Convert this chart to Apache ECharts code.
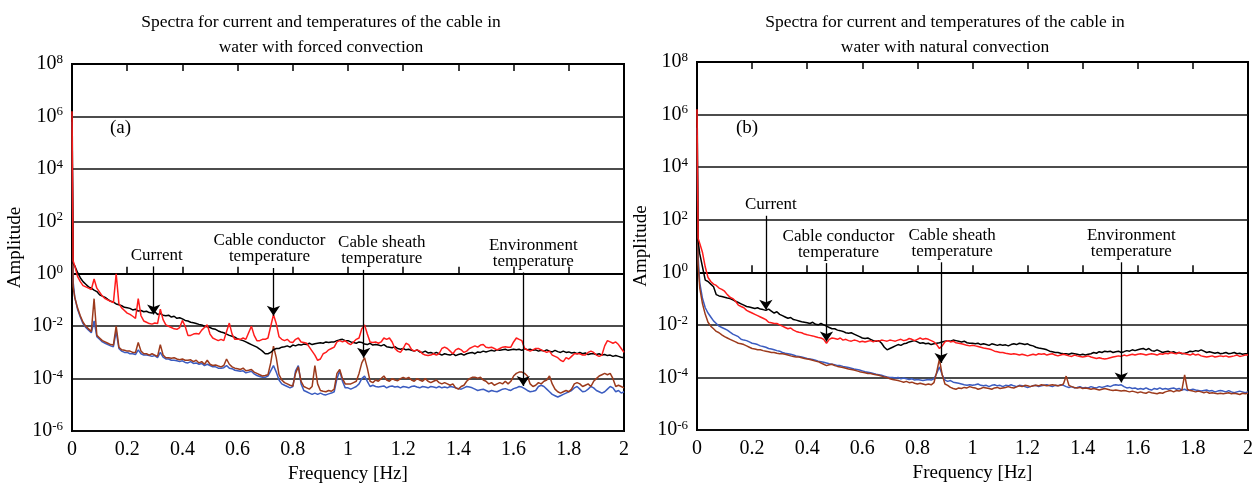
<!DOCTYPE html>
<html>
<head>
<meta charset="utf-8">
<script src="https://cdn.jsdelivr.net/npm/echarts@6/dist/echarts.min.js"></script>
<style>
html, body { margin: 0; padding: 0; background: #fff; }
#main { width: 1256px; height: 489px; }
</style>
</head>
<body>
<div id="main"></div>
<script>
// frequency grid of the spectra [Hz]: 0, 0.004, then every 0.01 Hz up to 2
var freq = [0, 0.004];
for (var k = 1; k <= 200; k++) freq.push(k / 100);

var xTicks = [0, 0.2, 0.4, 0.6, 0.8, 1, 1.2, 1.4, 1.6, 1.8, 2];
var yExp = [-6, -4, -2, 0, 2, 4, 6, 8];   // amplitude ticks are 10^n

// values are log10(amplitude)
// (a) forced convection
var forcedCurrent = [7.0, 0.4,
  0.3, 0.05, -0.15, -0.3, -0.4, -0.5, -0.55, -0.62, -0.68, -0.8,
  -0.85, -0.9, -0.98, -1.05, -1.08, -1.15, -1.18, -1.22, -1.28, -1.3,
  -1.32, -1.38, -1.35, -1.42, -1.4, -1.45, -1.43, -1.48, -1.5, -1.45,
  -1.55, -1.52, -1.58, -1.6, -1.58, -1.65, -1.62, -1.7, -1.68, -1.72,
  -1.78, -1.8, -1.85, -1.87, -1.9, -1.93, -1.95, -2.0, -2.02, -2.05,
  -2.1, -2.12, -2.18, -2.22, -2.25, -2.3, -2.35, -2.38, -2.42, -2.48,
  -2.52, -2.55, -2.6, -2.65, -2.7, -2.75, -2.8, -2.87, -2.95, -3.05,
  -3.05, -3.0, -2.9, -2.85, -2.85, -2.8, -2.78, -2.75, -2.8, -2.72,
  -2.75, -2.7, -2.72, -2.68, -2.7, -2.65, -2.7, -2.67, -2.65, -2.63,
  -2.65, -2.6, -2.62, -2.6, -2.6, -2.55, -2.52, -2.5, -2.55, -2.55,
  -2.6, -2.62, -2.65, -2.6, -2.62, -2.68, -2.7, -2.65, -2.72, -2.7,
  -2.72, -2.75, -2.7, -2.78, -2.8, -2.82, -2.78, -2.85, -2.88, -2.85,
  -2.9, -2.88, -2.92, -2.95, -2.9, -2.98, -3.0, -2.95, -3.02, -3.0,
  -3.05, -3.0, -3.05, -3.1, -3.05, -3.08, -3.1, -3.05, -3.12, -3.08,
  -3.05, -3.1, -3.05, -3.02, -3.0, -3.05, -2.98, -3.0, -2.95, -2.98,
  -2.95, -2.92, -2.95, -2.9, -2.92, -2.9, -2.88, -2.92, -2.9, -2.88,
  -2.9, -2.88, -2.92, -2.85, -2.9, -2.88, -2.92, -2.9, -2.95, -2.92,
  -2.95, -2.9, -2.95, -2.98, -2.92, -2.97, -3.0, -2.95, -3.0, -2.98,
  -3.02, -3.0, -3.05, -3.0, -3.05, -3.02, -3.08, -3.05, -3.05, -3.08,
  -3.05, -3.1, -3.08, -3.12, -3.1, -3.15, -3.12, -3.15, -3.18, -3.2];
var forcedConductor = [6.2, 0.5,
  0.3, -0.1, -0.3, -0.45, -0.5, -0.55, -0.6, -0.2, -0.55, -0.7,
  -0.85, -0.95, -1.0, -1.05, -1.1, 0.0, -1.15, -1.3, -1.4, -1.5,
  -1.55, -1.62, -1.7, -0.95, -1.6, -1.8, -1.85, -1.9, -1.92, -1.88,
  -1.9, -1.35, -1.75, -1.95, -2.0, -2.05, -2.1, -2.12, -2.05, -1.78,
  -2.0, -2.35, -2.35, -2.3, -2.28, -2.3, -2.15, -2.05, -1.95, -2.3,
  -2.45, -2.5, -2.55, -2.5, -2.55, -2.2, -1.88, -2.3, -2.5, -2.5,
  -2.5, -2.45, -2.5, -2.25, -2.0, -2.35, -2.55, -2.55, -2.5, -2.5,
  -2.45, -2.0, -1.56, -1.9, -2.4, -2.5, -2.55, -2.5, -2.6, -2.62,
  -2.5, -2.45, -2.6, -2.62, -2.65, -2.8, -2.95, -3.1, -3.3, -3.25,
  -3.05, -3.0, -2.9, -2.85, -2.8, -2.6, -2.55, -2.6, -2.55, -2.65,
  -2.7, -2.6, -2.5, -2.45, -2.1, -1.95, -2.3, -2.6, -2.62, -2.6,
  -2.65, -2.6, -2.45, -2.5, -2.45, -2.6, -2.85, -2.95, -3.0, -2.85,
  -2.65, -2.7, -2.88, -2.95, -2.9, -2.95, -3.05, -3.1, -3.12, -3.1,
  -3.05, -3.1, -3.05, -2.85, -2.8, -2.85, -2.95, -3.05, -2.9, -2.85,
  -2.9, -3.0, -2.95, -2.85, -2.8, -2.75, -2.8, -2.72, -2.7, -2.8,
  -2.82, -2.8, -2.85, -2.9, -2.85, -2.8, -2.78, -2.8, -2.8, -2.6,
  -2.45, -2.5, -2.55, -2.85, -2.9, -2.95, -2.9, -2.85, -2.85, -2.9,
  -2.95, -3.0, -2.95, -3.1, -3.15, -3.2, -3.3, -3.35, -3.2, -3.25,
  -3.15, -3.05, -3.05, -3.05, -3.1, -3.1, -3.0, -2.95, -3.0, -3.1,
  -3.15, -3.1, -2.75, -2.55, -2.6, -2.65, -2.6, -2.7, -2.85, -3.0];
var forcedSheath = [5.8, -0.3,
  -0.9, -1.35, -1.65, -1.9, -2.05, -2.15, -2.25, -1.8, -2.4, -2.5,
  -2.6, -2.65, -2.7, -2.75, -2.78, -2.2, -2.85, -2.95, -3.0, -3.0,
  -3.05, -3.05, -3.08, -2.9, -3.05, -3.1, -3.1, -3.12, -3.15, -3.12,
  -3.2, -3.0, -3.18, -3.25, -3.25, -3.3, -3.3, -3.32, -3.35, -3.32,
  -3.38, -3.4, -3.35, -3.42, -3.4, -3.45, -3.42, -3.5, -3.45, -3.5,
  -3.55, -3.55, -3.6, -3.6, -3.58, -3.5, -3.6, -3.62, -3.68, -3.7,
  -3.72, -3.7, -3.78, -3.75, -3.72, -3.82, -3.88, -3.92, -3.95, -3.95,
  -3.9, -3.7, -3.5, -3.75, -4.05, -4.2, -4.25, -4.3, -4.35, -4.3,
  -3.7, -3.5, -4.2, -4.45, -4.5, -4.55, -4.6, -4.55, -4.6, -4.55,
  -4.6, -4.62, -4.58, -4.55, -4.5, -4.0, -3.7, -4.1, -4.35, -4.35,
  -4.4, -4.35, -4.3, -4.2, -4.0, -3.9, -4.1, -4.3, -4.25, -4.3,
  -4.32, -4.3, -4.28, -4.35, -4.3, -4.28, -4.32, -4.3, -4.35, -4.3,
  -4.32, -4.35, -4.3, -4.28, -4.32, -4.35, -4.3, -4.32, -4.35, -4.3,
  -4.32, -4.35, -4.3, -4.35, -4.32, -4.35, -4.3, -4.32, -4.35, -4.38,
  -4.4, -4.35, -4.3, -4.32, -4.35, -4.4, -4.45, -4.42, -4.4, -4.45,
  -4.5, -4.45, -4.48, -4.5, -4.45, -4.4, -4.38, -4.42, -4.45, -4.38,
  -4.35, -4.3, -4.32, -4.38, -4.45, -4.5, -4.48, -4.45, -4.3, -4.25,
  -4.3, -4.4, -4.5, -4.6, -4.65, -4.7, -4.65, -4.6, -4.55, -4.5,
  -4.45, -4.35, -4.3, -4.4, -4.5, -4.48, -4.4, -4.3, -4.35, -4.45,
  -4.5, -4.55, -4.5, -4.4, -4.3, -4.35, -4.5, -4.45, -4.55, -4.5];
var forcedEnv = [5.5, -0.5,
  -0.9, -1.3, -1.6, -1.85, -2.0, -2.1, -2.2, -0.95, -2.35, -2.45,
  -2.55, -2.6, -2.65, -2.7, -2.72, -2.0, -2.8, -2.9, -2.92, -2.95,
  -2.95, -3.0, -3.0, -2.62, -2.95, -3.05, -3.05, -3.1, -3.05, -3.1,
  -3.15, -2.7, -3.1, -3.2, -3.2, -3.22, -3.2, -3.25, -3.28, -3.25,
  -3.3, -3.3, -3.28, -3.35, -3.3, -3.4, -3.35, -3.45, -3.3, -3.45,
  -3.5, -3.48, -3.52, -3.55, -3.5, -3.25, -3.45, -3.55, -3.6, -3.62,
  -3.65, -3.6, -3.7, -3.68, -3.65, -3.75, -3.8, -3.85, -3.9, -3.88,
  -3.85, -3.4, -2.76, -3.2, -3.85, -4.05, -4.15, -4.2, -4.25, -4.28,
  -3.8, -3.55, -4.1, -4.3, -4.35, -4.4, -4.3, -3.5, -4.2, -4.45,
  -4.48, -4.5, -4.45, -4.48, -4.4, -3.8, -3.65, -4.0, -4.2, -4.2,
  -4.2, -4.15, -4.1, -3.8, -3.4, -3.2, -3.6, -4.1, -4.15, -4.05,
  -4.1, -4.0, -3.9, -4.05, -4.1, -4.0, -4.05, -4.08, -4.0, -3.95,
  -4.0, -3.95, -4.05, -4.1, -4.0, -4.05, -4.1, -4.0, -4.1, -4.15,
  -4.1, -4.05, -4.15, -4.2, -4.15, -4.2, -4.25, -4.2, -4.35, -4.4,
  -4.3, -4.25, -4.1, -4.0, -3.95, -3.95, -3.98, -3.95, -4.05, -4.1,
  -4.2, -4.15, -4.25, -4.2, -4.15, -4.2, -4.1, -4.2, -4.1, -3.9,
  -3.8, -3.75, -3.75, -3.8, -3.9, -4.2, -4.3, -4.25, -4.15, -4.2,
  -4.1, -4.05, -3.9, -4.2, -4.4, -4.5, -4.55, -4.5, -4.45, -4.5,
  -4.4, -4.2, -4.15, -4.2, -4.3, -4.25, -4.2, -4.3, -4.1, -4.0,
  -3.9, -3.85, -3.8, -3.85, -3.8, -4.0, -4.3, -4.25, -4.3, -4.35];

// (b) natural convection
var naturalCurrent = [7.0, 1.2,
  0.7, 0.2, -0.3, -0.35, -0.45, -0.55, -0.85, -0.9, -0.92, -0.95,
  -0.98, -1.0, -1.05, -1.1, -1.15, -1.2, -1.25, -1.3, -1.32, -1.35,
  -1.38, -1.35, -1.4, -1.42, -1.45, -1.4, -1.48, -1.55, -1.5, -1.6,
  -1.65, -1.7, -1.75, -1.72, -1.8, -1.82, -1.85, -1.88, -1.9, -1.92,
  -1.95, -1.9, -1.98, -2.0, -1.95, -2.0, -2.05, -2.1, -2.15, -2.15,
  -2.2, -2.22, -2.25, -2.3, -2.32, -2.3, -2.35, -2.4, -2.45, -2.5,
  -2.52, -2.5, -2.55, -2.6, -2.62, -2.6, -2.7, -2.85, -2.95, -2.9,
  -2.85, -2.8, -2.75, -2.78, -2.72, -2.7, -2.65, -2.62, -2.6, -2.65,
  -2.7, -2.68, -2.72, -2.7, -2.75, -2.72, -2.7, -2.68, -2.65, -2.62,
  -2.6, -2.62, -2.58, -2.6, -2.62, -2.65, -2.62, -2.68, -2.7, -2.7,
  -2.72, -2.7, -2.75, -2.72, -2.75, -2.78, -2.72, -2.75, -2.78, -2.75,
  -2.78, -2.76, -2.8, -2.75, -2.72, -2.75, -2.7, -2.72, -2.75, -2.72,
  -2.78, -2.8, -2.85, -2.88, -2.9, -2.92, -2.95, -3.0, -3.02, -3.05,
  -3.05, -3.08, -3.1, -3.1, -3.12, -3.08, -3.1, -3.12, -3.15, -3.12,
  -3.15, -3.12, -3.1, -3.05, -3.08, -3.02, -3.05, -3.0, -3.02, -3.0,
  -3.05, -3.02, -3.0, -3.05, -3.02, -2.98, -3.0, -2.95, -2.98, -2.95,
  -2.92, -2.9, -2.95, -2.9, -2.98, -3.0, -2.95, -3.0, -3.05, -3.02,
  -3.0, -3.05, -3.02, -3.08, -3.05, -3.1, -3.08, -3.05, -3.0, -3.02,
  -2.98, -3.0, -2.95, -3.0, -3.05, -3.02, -3.05, -3.08, -3.05, -3.1,
  -3.08, -3.05, -3.1, -3.08, -3.05, -3.1, -3.08, -3.12, -3.1, -3.1];
var naturalConductor = [6.2, 1.3,
  1.1, 0.75, 0.2, -0.2, -0.35, -0.45, -0.5, -0.6, -0.65, -0.72,
  -0.85, -0.95, -1.0, -1.1, -1.25, -1.3, -1.35, -1.45, -1.5, -1.55,
  -1.6, -1.65, -1.7, -1.75, -1.8, -1.9, -1.92, -1.95, -1.95, -2.0,
  -2.05, -2.1, -2.15, -2.12, -2.2, -2.25, -2.28, -2.3, -2.35, -2.38,
  -2.4, -2.42, -2.45, -2.48, -2.5, -2.55, -2.7, -2.55, -2.5, -2.52,
  -2.55, -2.5, -2.58, -2.55, -2.6, -2.62, -2.58, -2.6, -2.65, -2.62,
  -2.65, -2.62, -2.6, -2.65, -2.6, -2.62, -2.58, -2.6, -2.62, -2.58,
  -2.6, -2.62, -2.58, -2.55, -2.6, -2.58, -2.52, -2.55, -2.6, -2.55,
  -2.5, -2.55, -2.52, -2.55, -2.6, -2.65, -2.75, -2.9, -2.8, -2.65,
  -2.6, -2.65, -2.62, -2.68, -2.7, -2.72, -2.75, -2.78, -2.8, -2.78,
  -2.8, -2.82, -2.85, -2.88, -2.9, -2.92, -2.95, -3.0, -3.02, -3.05,
  -3.05, -3.08, -3.1, -3.12, -3.1, -3.12, -3.15, -3.12, -3.15, -3.18,
  -3.15, -3.12, -3.15, -3.1, -3.12, -3.1, -3.15, -3.12, -3.1, -3.15,
  -3.18, -3.15, -3.12, -3.15, -3.18, -3.2, -3.15, -3.18, -3.2, -3.22,
  -3.2, -3.18, -3.22, -3.25, -3.28, -3.25, -3.28, -3.3, -3.28, -3.25,
  -3.22, -3.2, -3.18, -3.2, -3.15, -3.18, -3.15, -3.12, -3.15, -3.12,
  -3.1, -3.12, -3.15, -3.12, -3.1, -3.12, -3.15, -3.1, -3.12, -3.08,
  -3.1, -3.05, -3.08, -3.1, -3.05, -3.08, -3.1, -3.12, -3.15, -3.1,
  -3.15, -3.12, -3.18, -3.2, -3.22, -3.2, -3.18, -3.22, -3.2, -3.18,
  -3.2, -3.18, -3.22, -3.2, -3.18, -3.15, -3.2, -3.18, -3.15, -3.15];
var naturalSheath = [5.5, 0.6,
  -0.4, -1.0, -1.35, -1.55, -1.7, -1.85, -1.95, -2.05, -2.1, -2.15,
  -2.2, -2.28, -2.35, -2.4, -2.45, -2.55, -2.58, -2.6, -2.65, -2.7,
  -2.72, -2.75, -2.8, -2.82, -2.85, -2.9, -2.92, -2.95, -2.98, -3.0,
  -3.05, -3.08, -3.1, -3.12, -3.15, -3.18, -3.2, -3.22, -3.25, -3.28,
  -3.3, -3.32, -3.35, -3.38, -3.4, -3.42, -3.45, -3.48, -3.5, -3.52,
  -3.55, -3.55, -3.58, -3.6, -3.62, -3.65, -3.68, -3.7, -3.72, -3.75,
  -3.78, -3.8, -3.82, -3.85, -3.88, -3.9, -3.92, -3.95, -3.98, -4.0,
  -4.0, -4.02, -4.0, -4.05, -4.02, -4.05, -4.08, -4.05, -4.1, -4.08,
  -4.1, -4.12, -4.1, -4.08, -4.1, -4.05, -3.85, -3.6, -3.9, -4.1,
  -4.15, -4.12, -4.18, -4.2, -4.22, -4.25, -4.28, -4.3, -4.28, -4.3,
  -4.28, -4.25, -4.3, -4.32, -4.3, -4.35, -4.3, -4.28, -4.32, -4.3,
  -4.35, -4.3, -4.32, -4.28, -4.32, -4.35, -4.3, -4.32, -4.35, -4.38,
  -4.35, -4.32, -4.3, -4.35, -4.32, -4.3, -4.28, -4.32, -4.35, -4.3,
  -4.32, -4.28, -4.3, -4.35, -4.38, -4.35, -4.4, -4.38, -4.35, -4.4,
  -4.38, -4.4, -4.35, -4.38, -4.4, -4.35, -4.38, -4.35, -4.32, -4.35,
  -4.3, -4.28, -4.3, -4.28, -4.35, -4.4, -4.38, -4.42, -4.4, -4.45,
  -4.42, -4.45, -4.4, -4.45, -4.48, -4.42, -4.45, -4.4, -4.45, -4.42,
  -4.45, -4.42, -4.4, -4.45, -4.42, -4.48, -4.45, -4.5, -4.48, -4.45,
  -4.48, -4.5, -4.52, -4.5, -4.48, -4.52, -4.5, -4.55, -4.52, -4.5,
  -4.52, -4.55, -4.5, -4.55, -4.58, -4.55, -4.52, -4.55, -4.58, -4.55];
var naturalEnv = [5.2, 0.3,
  -0.6, -1.2, -1.6, -1.9, -2.05, -2.15, -2.25, -2.3, -2.38, -2.45,
  -2.5, -2.55, -2.6, -2.65, -2.7, -2.72, -2.75, -2.8, -2.85, -2.9,
  -2.92, -2.95, -2.95, -2.98, -3.0, -3.02, -3.05, -3.05, -3.08, -3.1,
  -3.1, -3.12, -3.15, -3.18, -3.2, -3.22, -3.22, -3.25, -3.28, -3.3,
  -3.32, -3.35, -3.38, -3.4, -3.45, -3.5, -3.55, -3.52, -3.5, -3.55,
  -3.58, -3.6, -3.62, -3.65, -3.68, -3.7, -3.72, -3.75, -3.78, -3.8,
  -3.82, -3.85, -3.85, -3.88, -3.9, -3.92, -3.95, -3.98, -4.0, -4.05,
  -4.08, -4.1, -4.12, -4.15, -4.18, -4.15, -4.2, -4.18, -4.22, -4.25,
  -4.22, -4.25, -4.28, -4.25, -4.28, -4.2, -3.8, -3.3, -3.9, -4.25,
  -4.3, -4.38, -4.42, -4.45, -4.4, -4.42, -4.38, -4.4, -4.35, -4.38,
  -4.4, -4.45, -4.42, -4.38, -4.4, -4.42, -4.45, -4.4, -4.38, -4.42,
  -4.4, -4.38, -4.35, -4.38, -4.4, -4.36, -4.32, -4.35, -4.3, -4.32,
  -4.35, -4.32, -4.3, -4.32, -4.28, -4.3, -4.32, -4.3, -4.28, -4.3,
  -4.32, -4.3, -4.25, -3.95, -4.3, -4.35, -4.38, -4.4, -4.38, -4.42,
  -4.4, -4.42, -4.45, -4.42, -4.45, -4.48, -4.45, -4.42, -4.45, -4.48,
  -4.5, -4.48, -4.5, -4.52, -4.5, -4.52, -4.55, -4.52, -4.55, -4.58,
  -4.55, -4.58, -4.6, -4.55, -4.58, -4.6, -4.62, -4.58, -4.6, -4.55,
  -4.52, -4.5, -4.55, -4.5, -4.52, -4.48, -3.9, -4.45, -4.5, -4.52,
  -4.55, -4.52, -4.55, -4.58, -4.55, -4.6, -4.58, -4.6, -4.62, -4.6,
  -4.62, -4.6, -4.58, -4.62, -4.6, -4.62, -4.65, -4.6, -4.62, -4.6];

[forcedCurrent, forcedConductor, forcedSheath, forcedEnv,
 naturalCurrent, naturalConductor, naturalSheath, naturalEnv].forEach(function (a, i) {
  if (a.length !== freq.length) throw new Error('series ' + i + ' has ' + a.length + ' values, expected ' + freq.length);
});

var FONT = '"Liberation Serif", "Times New Roman", serif';
var COLORS = { current: '#000000', conductor: '#ff1c1c', sheath: '#3b5cc0', env: '#9c3a1c' };

function pairs(vals) {
  return vals.map(function (v, i) { return [freq[i], v]; });
}

// arrow with its caption; from/to in log10 amplitude, shift moves the caption sideways
function arrow(text, f, from, to, shift) {
  var pad = shift >= 0 ? [0, 0, 0, shift * 2] : [0, -shift * 2, 0, 0];
  return [
    { coord: [f, from], label: { formatter: text, padding: pad } },
    { coord: [f, to] }
  ];
}

function marks(list) {
  return {
    silent: true,
    animation: false,
    symbol: ['none', 'arrow'],
    symbolSize: 10,
    lineStyle: { color: '#000', width: 1.3, type: 'solid' },
    label: {
      show: true, position: 'start', distance: 3, color: '#000',
      fontFamily: FONT, fontSize: 17, lineHeight: 16
    },
    emphasis: { disabled: true },
    data: list
  };
}

function line(name, vals, color, grid, markLine) {
  var s = {
    name: name, type: 'line', data: pairs(vals),
    xAxisIndex: grid * 2, yAxisIndex: grid,
    symbol: 'none', showSymbol: false, silent: true, animation: false,
    lineStyle: { color: color, width: 1.5 }, itemStyle: { color: color }
  };
  if (markLine) s.markLine = markLine;
  return s;
}

function xAxes(grid) {
  var base = {
    type: 'value', gridIndex: grid, min: xTicks[0], max: xTicks[xTicks.length - 1], interval: 0.2,
    axisLine: { show: true, lineStyle: { color: '#000', width: 2 } },
    axisTick: { show: true, inside: true, length: 7, lineStyle: { color: '#000', width: 1.5 } },
    splitLine: { show: false }
  };
  var bottom = Object.assign({}, base, {
    position: 'bottom',
    name: 'Frequency [Hz]', nameLocation: 'middle', nameGap: 29,
    nameTextStyle: { fontFamily: FONT, fontSize: 19, color: '#000' },
    axisLabel: {
      fontFamily: FONT, fontSize: 20, color: '#000', margin: 9,
      formatter: function (v) { return String(+v.toFixed(1)); }
    }
  });
  var top = Object.assign({}, base, { position: 'top', axisLabel: { show: false } });
  return [bottom, top];
}

function yAxis(grid, gap) {
  return {
    type: 'value', gridIndex: grid, min: yExp[0], max: yExp[yExp.length - 1], interval: 2,
    name: 'Amplitude', nameLocation: 'middle', nameGap: gap,
    nameTextStyle: { fontFamily: FONT, fontSize: 19, color: '#000' },
    axisLine: { show: true, lineStyle: { color: '#000', width: 2 } },
    axisTick: { show: false },
    splitLine: { show: true, lineStyle: { color: '#111', width: 1.5 } },
    axisLabel: {
      color: '#000', fontFamily: FONT, fontSize: 20, lineHeight: 22, margin: 9,
      formatter: function (v) { return '10{e|' + v + '}'; },
      rich: { e: { fontFamily: FONT, fontSize: 13, lineHeight: 13, verticalAlign: 'top', color: '#000' } }
    }
  };
}

var myChart = echarts.init(document.getElementById('main'), null, { renderer: 'canvas' });

var option = {
  backgroundColor: '#fff',
  animation: false,
  title: [
    {
      text: 'Spectra for current and temperatures of the cable in\nwater with forced convection',
      left: 316, top: 5, textAlign: 'center',
      textStyle: { fontFamily: FONT, fontSize: 17.5, fontWeight: 'normal', color: '#000', lineHeight: 25 }
    },
    {
      text: 'Spectra for current and temperatures of the cable in\nwater with natural convection',
      left: 940, top: 5, textAlign: 'center',
      textStyle: { fontFamily: FONT, fontSize: 17.5, fontWeight: 'normal', color: '#000', lineHeight: 25 }
    }
  ],
  grid: [
    { left: 72, top: 64, width: 552, height: 368, show: true, borderColor: '#000', borderWidth: 2 },
    { left: 697, top: 62, width: 555, height: 368, show: true, borderColor: '#000', borderWidth: 2 }
  ],
  xAxis: xAxes(0).concat(xAxes(1)),
  yAxis: [yAxis(0, 47), yAxis(1, 46)],
  graphic: [
    { type: 'text', left: 110, top: 119, style: { text: '(a)', fontFamily: FONT, fontSize: 19, fill: '#000' } },
    { type: 'text', left: 736, top: 119, style: { text: '(b)', fontFamily: FONT, fontSize: 19, fill: '#000' } }
  ],
  series: [
    line('Cable sheath temperature', forcedSheath, COLORS.sheath, 0),
    line('Environment temperature', forcedEnv, COLORS.env, 0),
    line('Current', forcedCurrent, COLORS.current, 0),
    line('Cable conductor temperature', forcedConductor, COLORS.conductor, 0, marks([
      arrow('Current', 0.296, 0.28, -1.55, 3),
      arrow('Cable conductor\ntemperature', 0.73, 0.22, -1.6, -4),
      arrow('Cable sheath\ntemperature', 1.057, 0.15, -3.2, 18),
      arrow('Environment\ntemperature', 1.635, 0.05, -4.28, 10)
    ])),
    line('Cable sheath temperature', naturalSheath, COLORS.sheath, 1),
    line('Environment temperature', naturalEnv, COLORS.env, 1),
    line('Current', naturalCurrent, COLORS.current, 1),
    line('Cable conductor temperature', naturalConductor, COLORS.conductor, 1, marks([
      arrow('Current', 0.25, 2.15, -1.43, 5),
      arrow('Cable conductor\ntemperature', 0.47, 0.35, -2.63, 12),
      arrow('Cable sheath\ntemperature', 0.886, 0.38, -3.45, 11),
      arrow('Environment\ntemperature', 1.54, 0.38, -4.19, 10)
    ]))
  ]
};

myChart.setOption(option);
</script>
</body>
</html>
